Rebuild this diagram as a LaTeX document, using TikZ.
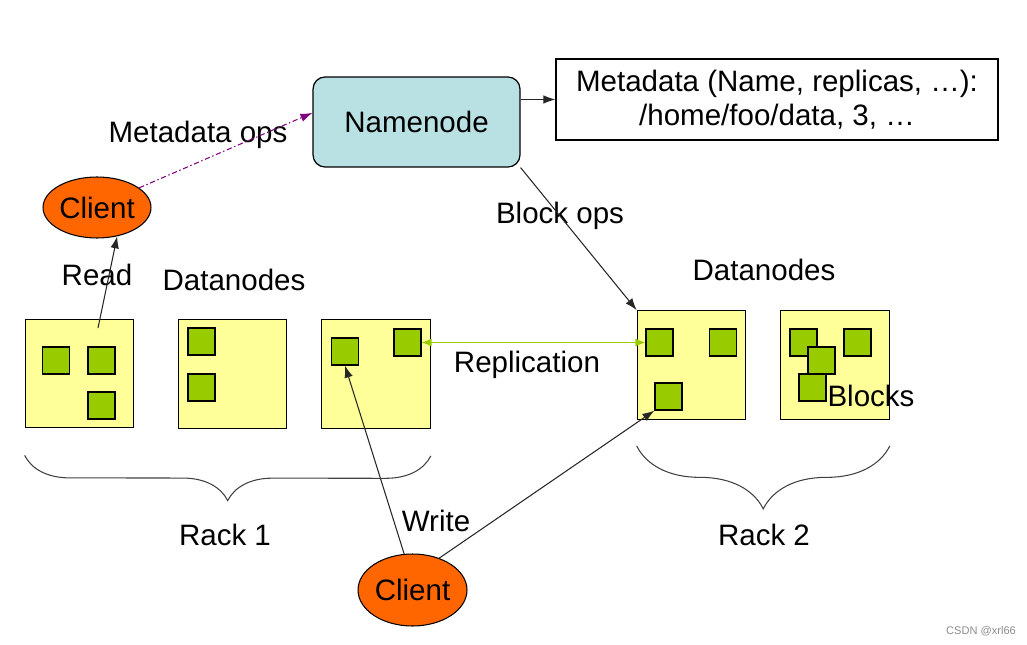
\documentclass[tikz,border=0pt]{standalone}
\usepackage{fontspec}
\setmainfont{Liberation Sans}
\usetikzlibrary{shapes.geometric,arrows.meta,decorations.pathreplacing}
\definecolor{nodeblue}{HTML}{B9E0E3}
\definecolor{dnyellow}{HTML}{FFFF99}
\definecolor{blkgreen}{HTML}{99CC00}
\definecolor{clorange}{HTML}{FF6600}
\definecolor{opspurple}{HTML}{800080}

\begin{document}
\begin{tikzpicture}[x=0.02cm,y=-0.02cm,font=\fontsize{16.8}{19.5}\selectfont,
  arr/.style={-{Latex[length=2.4mm,width=1.7mm]},line width=0.6pt,draw=black!85},
  dnode/.style={draw,fill=dnyellow,minimum size=2.17cm,inner sep=0,line width=0.7pt},
  blk/.style={draw,fill=blkgreen,minimum size=0.54cm,inner sep=0,line width=0.7pt},
  client/.style={ellipse,draw,fill=clorange,inner sep=0,line width=0.6pt},
  rack/.style={decorate,decoration={brace,mirror,amplitude=#1},line width=0.6pt,draw=black!75}]
  \useasboundingbox (0,0) rectangle (1027,645);

  \node[draw,fill=nodeblue,rounded corners=0.24cm,minimum width=4.14cm,minimum height=1.8cm,line width=0.7pt] (nn) at (416.5,122) {Namenode};
  \node[draw,minimum width=8.84cm,minimum height=1.62cm,align=center,line width=0.7pt] (meta) at (777,99.5) {Metadata (Name, replicas, …):\\/home/foo/data, 3, …};
  \node[client,minimum width=2.16cm,minimum height=1.22cm] (cl1) at (97,207.5) {Client};
  \node[client,minimum width=2.18cm,minimum height=1.44cm] (cl2) at (412.5,590) {Client};

  \node[dnode] (dn1) at (79.5,373.5) {};
  \node[dnode] (dn2) at (232.5,374) {};
  \node[dnode] (dn3) at (376,374) {};
  \node[dnode] (dn4) at (691.5,365) {};
  \node[dnode] (dn5) at (835,365) {};

  \node[blk] (b11) at (56,360.5) {};
  \node[blk] (b12) at (101.5,360.5) {};
  \node[blk] (b13) at (101.5,405.5) {};
  \node[blk] (b21) at (201.5,341.5) {};
  \node[blk] (b22) at (201.5,387.5) {};
  \node[blk] (b31) at (345,351.5) {};
  \node[blk] (b32) at (407.5,342.5) {};
  \node[blk] (b41) at (659.5,342.5) {};
  \node[blk] (b42) at (723,342.5) {};
  \node[blk] (b43) at (668.5,396.5) {};
  \node[blk] (b51) at (803.5,342.5) {};
  \node[blk] (b52) at (857.5,342.5) {};
  \node[blk] (b53) at (821.5,360.5) {};
  \node[blk] (b54) at (812.5,387.5) {};

  \node (lmeta) at (198,135) {Metadata ops};
  \node (lread) at (97,275) {Read};
  \node (ldn1) at (234,280) {Datanodes};
  \node (ldn2) at (764,270) {Datanodes};
  \node (lblk) at (560,216) {Block ops};
  \node (lrep) at (527,365) {Replication};
  \node (lblocks) at (871,396) {Blocks};
  \node (lwrite) at (436,521) {Write};
  \node (lrack1) at (225,535) {Rack 1};
  \node (lrack2) at (764,535) {Rack 2};
  \node[font=\fontsize{6.3}{7}\selectfont,text=black!45] (mark) at (981,631) {CSDN @xrl66};

  \coordinate (rd) at (98,328);
  \draw[arr] (rd) -- (cl1.-55);
  \draw[arr,draw=opspurple,dash pattern=on 3pt off 1.5pt on 0.8pt off 1.5pt,-{Latex[length=2.4mm,width=1.7mm,fill=opspurple]}] (cl1.25) -- (nn.175);
  \draw[arr] (nn.east |- meta.west) -- (meta.west);
  \draw[arr] (nn.south east) -- (dn4.north west);
  \draw[arr,draw=blkgreen,{Latex[length=2mm,width=1.6mm]}-{Latex[length=2mm,width=1.6mm]}] (b32.east) -- (b41.west);
  \draw[arr] (cl2.103) -- (b31.south);
  \draw[arr] (cl2.50) -- (b43.south west);

  \draw[rack=0.9cm] ([yshift=-0.54cm]dn1.south west) -- ([yshift=-0.54cm]dn3.south east);
  \draw[rack=1.26cm] ([yshift=-0.52cm]dn4.south west) -- ([yshift=-0.52cm]dn5.south east);
\end{tikzpicture}
\end{document}
